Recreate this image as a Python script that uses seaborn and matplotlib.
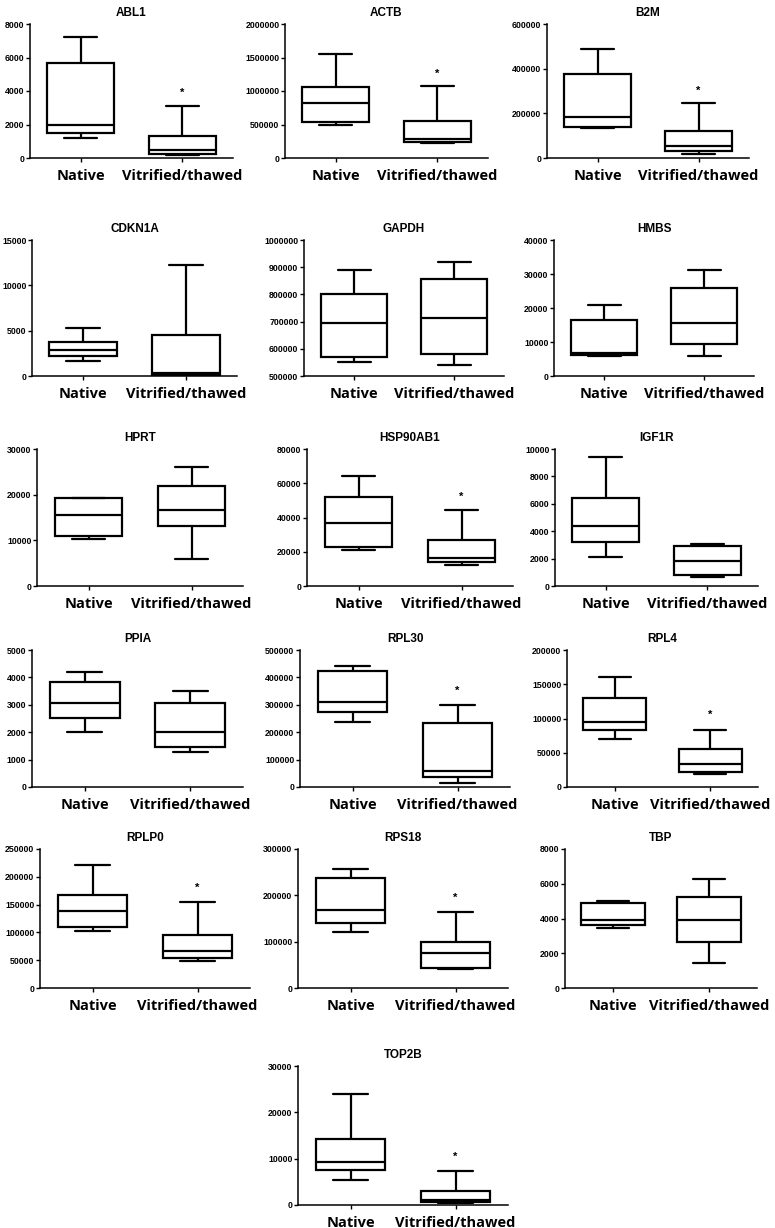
import numpy as np
import pandas as pd
import matplotlib
matplotlib.use("Agg")
import matplotlib.pyplot as plt
import matplotlib.ticker as mticker
import seaborn as sns

# gene panels in reading order
genes = ["ABL1", "ACTB", "B2M",
         "CDKN1A", "GAPDH", "HMBS",
         "HPRT", "HSP90AB1", "IGF1R",
         "PPIA", "RPL30", "RPL4",
         "RPLP0", "RPS18", "TBP",
         "TOP2B"]
groups = ["Native", "Vitrified/thawed"]

# five-number summaries: min, q1, median, q3, max
native = [
    [1200, 1500, 1950, 5700, 7250],
    [500000, 540000, 820000, 1060000, 1550000],
    [135000, 140000, 185000, 375000, 490000],
    [1600, 2200, 2900, 3800, 5300],
    [550000, 570000, 695000, 800000, 890000],
    [5800, 6300, 6800, 16500, 20800],
    [10300, 10900, 15500, 19200, 19200],
    [21000, 22500, 37000, 52000, 64500],
    [2150, 3200, 4400, 6400, 9400],
    [2000, 2530, 3060, 3830, 4200],
    [238000, 272000, 312000, 422000, 443000],
    [70000, 83000, 95000, 130000, 160000],
    [102000, 110000, 138000, 168000, 221000],
    [120000, 140000, 168000, 238000, 256000],
    [3450, 3650, 3920, 4900, 5000],
    [5500, 7500, 9200, 14300, 24000],
]
vitrified = [
    [150, 250, 450, 1300, 3100],
    [220000, 240000, 280000, 550000, 1080000],
    [20000, 30000, 55000, 120000, 245000],
    [50, 100, 300, 4500, 12200],
    [540000, 580000, 715000, 855000, 920000],
    [5800, 9300, 15500, 26000, 31300],
    [6000, 13200, 16700, 22000, 26000],
    [12500, 14000, 16500, 27000, 44500],
    [650, 800, 1800, 2900, 3050],
    [1270, 1450, 2020, 3070, 3500],
    [15000, 35000, 60000, 235000, 300000],
    [19000, 22000, 33000, 56000, 83000],
    [48000, 54000, 67000, 95000, 154000],
    [40000, 43000, 75000, 100000, 165000],
    [1450, 2650, 3920, 5250, 6300],
    [400, 700, 1000, 3000, 7400],
]

y_lo = [0, 0, 0, 0, 500000, 0, 0, 0, 0, 0, 0, 0, 0, 0, 0, 0]
y_hi = [8000, 2000000, 600000, 15000, 1000000, 40000, 30000, 80000, 10000,
        5000, 500000, 200000, 250000, 300000, 8000, 30000]
y_step = [2000, 500000, 200000, 5000, 100000, 10000, 10000, 20000, 2000,
          1000, 100000, 50000, 50000, 100000, 2000, 10000]

# asterisk height over the vitrified group (None = no significance mark)
star_y = [3900, 1250000, 300000, None, None, None, None, 52000, None,
          None, 350000, 105000, 180000, 195000, None, 10500]

# axes boxes in pixels: left, right, top, bottom
W, H = 775, 1228
rows = [(24, 158), (240, 376), (449, 586), (650, 787), (849, 988), (1066, 1205)]
cols = [
    [(30, 233), (285, 488), (547, 749)],
    [(32, 237), (304, 504), (554, 754)],
    [(37, 243), (307, 513), (555, 758)],
    [(32, 243), (300, 510), (567, 758)],
    [(40, 250), (298, 508), (565, 757)],
    [(298, 508)],
]

sns.set_style("ticks")
plt.rcParams.update({"text.color": "black", "xtick.color": "black",
                     "ytick.color": "black", "axes.edgecolor": "black"})
fig = plt.figure(figsize=(W / 100, H / 100), dpi=100)

k = 0
for r, (top, bottom) in enumerate(rows):
    for left, right in cols[r]:
        ax = fig.add_axes([left / W, 1 - bottom / H, (right - left) / W, (bottom - top) / H])
        df = pd.DataFrame({
            "group": np.repeat(groups, 5),
            "value": native[k] + vitrified[k],
        })
        sns.boxplot(data=df, x="group", y="value", ax=ax, whis=(0, 100),
                    color="white", linecolor="black", linewidth=1.6,
                    width=0.66, showfliers=False)
        ax.set_xlim(-0.5, 1.5)
        ax.set_ylim(y_lo[k], y_hi[k])
        ax.set_yticks(np.arange(y_lo[k], y_hi[k] + 1, y_step[k]))
        ax.yaxis.set_major_formatter(mticker.StrMethodFormatter("{x:.0f}"))
        ax.set_xlabel("")
        ax.set_ylabel("")
        sns.despine(ax=ax)
        for sp in ("left", "bottom"):
            ax.spines[sp].set_linewidth(1.1)
        ax.tick_params(axis="y", length=3, width=1, pad=1)
        ax.tick_params(axis="x", length=3, width=1, pad=5)
        for lab in ax.get_yticklabels():
            lab.set_fontfamily("Liberation Sans")
            lab.set_fontweight("bold")
            lab.set_fontsize(6.3)
        for lab in ax.get_xticklabels():
            lab.set_fontfamily("Open Sans")
            lab.set_fontweight("bold")
            lab.set_fontsize(10.5)
        ax.set_title(genes[k], fontfamily="Liberation Sans", fontweight="bold",
                     fontsize=8.5, pad=6, color="black")
        if star_y[k] is not None:
            ax.text(1, star_y[k], "*", ha="center", va="center",
                    fontsize=8, fontweight="bold", fontfamily="Liberation Sans")
        k += 1

fig.savefig("out.png", dpi=100, facecolor="white")
